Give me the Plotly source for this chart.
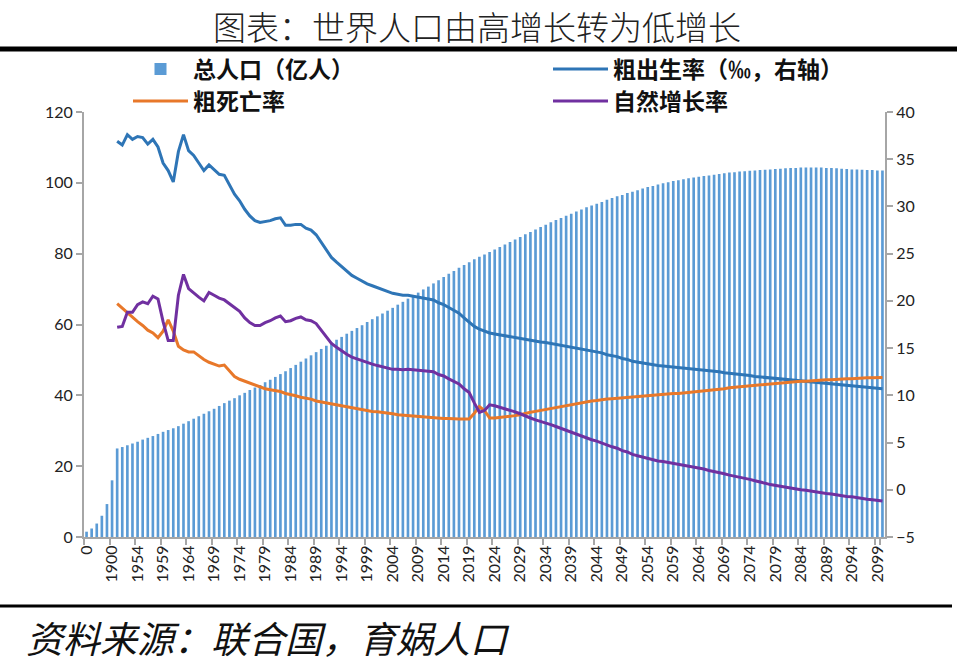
import plotly.graph_objects as go

# ---------------- data ----------------
pre_labels = ["0", "1000", "1500", "1700", "1800", "1900"]
pre_population = [1.5, 2.4, 3.8, 6.0, 9.3, 16.0]
years = [str(y) for y in range(1950, 2101)]
categories = pre_labels + years

# 总人口（亿人）1950-2100
population = [
    25.0, 25.4, 25.9, 26.4, 26.9, 27.5, 28.0, 28.5, 29.1, 29.7,
    30.2, 30.7, 31.3, 32.0, 32.7, 33.4, 34.1, 34.8, 35.5, 36.2,
    37.0, 37.8, 38.5, 39.2, 40.0, 40.7, 41.5, 42.2, 42.9, 43.7,
    44.4, 45.2, 46.0, 46.8, 47.7, 48.6, 49.5, 50.4, 51.3, 52.2,
    53.1, 54.0, 54.9, 55.7, 56.5, 57.4, 58.2, 59.0, 59.8, 60.7,
    61.5, 62.3, 63.1, 63.9, 64.7, 65.6, 66.4, 67.3, 68.1, 69.0,
    69.9, 70.7, 71.6, 72.5, 73.4, 74.3, 75.1, 76.0, 76.8, 77.6,
    78.4, 79.1, 79.8, 80.5, 81.2, 81.9, 82.6, 83.3, 84.0, 84.7,
    85.5, 86.1, 86.8, 87.5, 88.2, 88.9, 89.5, 90.1, 90.7, 91.3,
    91.9, 92.5, 93.1, 93.6, 94.1, 94.6, 95.2, 95.7, 96.2, 96.6,
    97.1, 97.5, 97.9, 98.4, 98.8, 99.1, 99.5, 99.9, 100.2, 100.5,
    100.7, 101.0, 101.3, 101.5, 101.7, 101.9, 102.1, 102.3, 102.5, 102.7,
    102.9, 103.0, 103.2, 103.3, 103.4, 103.5, 103.6, 103.7, 103.8, 103.9,
    104.0, 104.1, 104.2, 104.2, 104.3, 104.3, 104.3, 104.3, 104.3, 104.2,
    104.2, 104.1, 104.0, 103.9, 103.8, 103.8, 103.7, 103.6, 103.6, 103.5,
    103.5,
]

# 粗出生率（‰）1950-2100
birth_rate = [
    36.9, 36.5, 37.6, 37.1, 37.4, 37.3, 36.6, 37.1, 36.3, 34.6,
    33.8, 32.6, 35.8, 37.6, 35.9, 35.4, 34.6, 33.8, 34.4, 33.9,
    33.4, 33.3, 32.3, 31.3, 30.6, 29.7, 29.0, 28.5, 28.3, 28.4,
    28.5, 28.7, 28.8, 28.0, 28.0, 28.1, 28.1, 27.7, 27.5, 27.0,
    26.2, 25.3, 24.6, 24.1, 23.6, 23.1, 22.7, 22.4, 22.1, 21.8,
    21.6, 21.4, 21.2, 21.0, 20.8, 20.7, 20.6, 20.6, 20.5, 20.4,
    20.3, 20.2, 20.1, 19.8, 19.6, 19.3, 19.0, 18.7, 18.2, 17.8,
    17.3, 17.0, 16.8, 16.6, 16.5, 16.4, 16.3, 16.2, 16.1, 16.0,
    15.9, 15.8, 15.7, 15.65, 15.6, 15.5, 15.4, 15.3, 15.2, 15.1,
    15.0, 14.9, 14.8, 14.7, 14.6, 14.5, 14.3, 14.2, 14.1, 13.9,
    13.8, 13.6, 13.5, 13.4, 13.3, 13.2, 13.15, 13.1, 13.05, 13.0,
    12.95, 12.9, 12.85, 12.8, 12.75, 12.7, 12.6, 12.55, 12.5, 12.4,
    12.35, 12.3, 12.2, 12.15, 12.1, 12.0, 11.95, 11.9, 11.8, 11.75,
    11.7, 11.65, 11.6, 11.55, 11.5, 11.45, 11.4, 11.35, 11.3, 11.25,
    11.2, 11.15, 11.1, 11.05, 11.0, 10.95, 10.9, 10.85, 10.8, 10.75,
    10.7,
]

# 粗死亡率（‰）1950-2100
death_rate = [
    19.7, 19.2, 18.8, 18.3, 17.8, 17.4, 16.9, 16.6, 16.1, 16.8,
    18.0, 16.8, 15.2, 14.8, 14.6, 14.6, 14.2, 13.8, 13.5, 13.3,
    13.1, 13.2, 12.6, 12.0, 11.7, 11.5, 11.3, 11.1, 10.9, 10.7,
    10.6, 10.5, 10.4, 10.2, 10.1, 9.95, 9.8, 9.7, 9.6, 9.4,
    9.3, 9.2, 9.1, 9.0, 8.9, 8.75, 8.65, 8.55, 8.45, 8.35,
    8.3, 8.25, 8.2, 8.1, 8.05, 7.95, 7.9, 7.85, 7.8, 7.75,
    7.7, 7.65, 7.6, 7.6, 7.55, 7.55, 7.5, 7.5, 7.5, 7.5,
    8.1, 8.8, 8.4, 7.6, 7.6, 7.65, 7.7, 7.8, 7.85, 7.95,
    8.1, 8.2, 8.3, 8.4, 8.5, 8.6, 8.7, 8.8, 8.95, 9.05,
    9.15, 9.25, 9.3, 9.4, 9.45, 9.55, 9.6, 9.65, 9.7, 9.75,
    9.8, 9.85, 9.9, 9.95, 10.0, 10.05, 10.1, 10.1, 10.15, 10.2,
    10.2, 10.25, 10.3, 10.4, 10.45, 10.5, 10.55, 10.6, 10.65, 10.7,
    10.8, 10.85, 10.9, 10.95, 11.0, 11.05, 11.1, 11.2, 11.25, 11.3,
    11.35, 11.4, 11.45, 11.45, 11.5, 11.5, 11.55, 11.6, 11.6, 11.65,
    11.65, 11.7, 11.7, 11.75, 11.75, 11.8, 11.8, 11.85, 11.85, 11.9,
    11.9,
]

# 自然增长率（‰）1950-2100
natural_rate = [
    17.2, 17.3, 18.8, 18.8, 19.6, 19.9, 19.7, 20.5, 20.2, 17.8,
    15.8, 15.8, 20.6, 22.8, 21.3, 20.8, 20.4, 20.0, 20.9, 20.6,
    20.3, 20.1, 19.7, 19.3, 18.9, 18.2, 17.7, 17.4, 17.4, 17.7,
    17.9, 18.2, 18.4, 17.8, 17.9, 18.15, 18.3, 18.0, 17.9, 17.6,
    16.9, 16.1, 15.5, 15.1, 14.7, 14.35, 14.05, 13.85, 13.65, 13.45,
    13.3, 13.15, 13.0, 12.9, 12.75, 12.75, 12.7, 12.75, 12.7, 12.65,
    12.6, 12.55, 12.5, 12.2, 12.05, 11.75, 11.5, 11.2, 10.7, 10.3,
    9.2, 8.2, 8.4, 9.0, 8.9, 8.75, 8.6, 8.4, 8.25, 8.05,
    7.8, 7.6, 7.4, 7.25, 7.1, 6.9, 6.7, 6.5, 6.25, 6.05,
    5.85, 5.65, 5.5, 5.3, 5.15, 4.95, 4.7, 4.55, 4.4, 4.15,
    4.0, 3.75, 3.6, 3.45, 3.3, 3.15, 3.05, 3.0, 2.9, 2.8,
    2.75, 2.65, 2.55, 2.4, 2.3, 2.2, 2.05, 1.95, 1.85, 1.7,
    1.55, 1.45, 1.3, 1.2, 1.1, 0.95, 0.85, 0.7, 0.55, 0.45,
    0.35, 0.25, 0.15, 0.1, 0.0, -0.05, -0.15, -0.25, -0.3, -0.4,
    -0.45, -0.55, -0.6, -0.7, -0.75, -0.85, -0.9, -1.0, -1.05, -1.15,
    -1.2,
]

tick_labels = categories[::5]

# ---------------- styling ----------------
CJK = "Noto Sans CJK SC"
NUM = "Lato, Liberation Sans, sans-serif"
AXIS_GRAY = "#a6a6a6"

fig = go.Figure()

fig.add_trace(go.Bar(
    x=categories, y=pre_population + population,
    name="总人口（亿人）", marker=dict(color="#5B9BD5", line=dict(width=0)),
    legend="legend", yaxis="y",
))
fig.add_trace(go.Scatter(
    x=years, y=birth_rate, mode="lines", name="粗出生率（‰，右轴）",
    line=dict(color="#2E75B6", width=3), legend="legend2", yaxis="y2",
))
fig.add_trace(go.Scatter(
    x=years, y=death_rate, mode="lines", name="粗死亡率",
    line=dict(color="#E8782A", width=3), legend="legend3", yaxis="y2",
))
fig.add_trace(go.Scatter(
    x=years, y=natural_rate, mode="lines", name="自然增长率",
    line=dict(color="#7030A0", width=3), legend="legend4", yaxis="y2",
))

L, R, T, B = 84, 75, 112, 131
W, H = 960, 668
pw = W - L - R
ph = H - T - B

def px(xp):
    return (xp - L) / pw

def py(yp):
    return (H - B - yp) / ph

legend_font = dict(family=CJK, size=23, color="#111111", weight="bold")

def legend_box(x_left, y_mid):
    return dict(
        x=px(x_left), y=py(y_mid), xanchor="left", yanchor="middle",
        orientation="v", font=legend_font, bgcolor="rgba(0,0,0,0)",
        tracegroupgap=0, itemwidth=55,
    )

fig.update_layout(
    template="none",
    width=W, height=H,
    margin=dict(l=L, r=R, t=T, b=B, autoexpand=False),
    paper_bgcolor="white", plot_bgcolor="white",
    bargap=0.48,
    showlegend=True,
    annotations=[
        dict(text="图表：世界人口由高增长转为低增长", xref="paper", yref="paper",
             x=px(477), y=py(0), xanchor="center", yanchor="top",
             showarrow=False,
             font=dict(family=CJK, size=33, color="#222222", weight=300)),
        dict(text="资料来源：联合国，育娲人口", xref="paper", yref="paper",
             x=px(24), y=py(637), xanchor="left", yanchor="middle",
             showarrow=False,
             font=dict(family=CJK, size=37, color="#111111", style="italic")),
    ],
    xaxis=dict(
        type="category", categoryorder="array", categoryarray=categories,
        tickmode="array", tickvals=tick_labels, ticktext=tick_labels,
        tickangle=-90, tickson="boundaries",
        ticks="outside", ticklen=6, tickwidth=1.5, tickcolor=AXIS_GRAY,
        showline=True, linecolor=AXIS_GRAY, linewidth=2,
        showgrid=False, zeroline=False, automargin=False,
        tickfont=dict(family=NUM, size=16, color="#222222"),
    ),
    yaxis=dict(
        range=[0, 120], dtick=20, tick0=0,
        ticks="outside", ticklen=6, tickwidth=1.5, tickcolor=AXIS_GRAY,
        showline=True, linecolor=AXIS_GRAY, linewidth=2,
        showgrid=False, zeroline=False, automargin=False,
        tickfont=dict(family=NUM, size=16, color="#222222"),
    ),
    yaxis2=dict(
        range=[-5, 40], dtick=5, tick0=0, overlaying="y", side="right",
        ticks="outside", ticklen=6, tickwidth=1.5, tickcolor=AXIS_GRAY,
        showline=True, linecolor=AXIS_GRAY, linewidth=2,
        showgrid=False, zeroline=False, automargin=False,
        tickfont=dict(family=NUM, size=16, color="#222222"),
    ),
    legend=legend_box(128, 69),
    legend2=legend_box(548, 69),
    legend3=legend_box(128, 101),
    legend4=legend_box(548, 101),
    shapes=[
        dict(type="line", xref="paper", yref="paper",
             x0=px(0), x1=px(957), y0=py(49), y1=py(49),
             line=dict(color="black", width=5)),
        dict(type="line", xref="paper", yref="paper",
             x0=px(0), x1=px(952), y0=py(606), y1=py(606),
             line=dict(color="black", width=3)),
    ],
)

fig.write_html(
    "out.html",
    config={"displayModeBar": False},
    post_script="document.body.style.margin='0';document.body.style.overflow='hidden';",
)
